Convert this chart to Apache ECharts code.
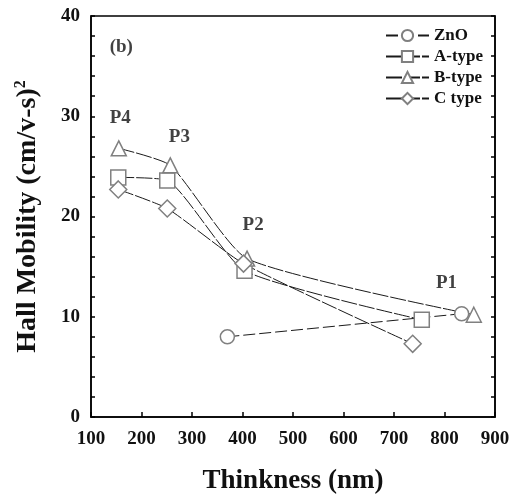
<!DOCTYPE html>
<html><head><meta charset="utf-8">
<script src="https://cdn.jsdelivr.net/npm/echarts@6/dist/echarts.min.js"></script>
<style>html,body{margin:0;padding:0;background:#fff}#c{width:512px;height:494px}</style>
</head><body><div id="c"></div>
<script>
const seriesNames = ['ZnO', 'A-type', 'B-type', 'C type'];
const thickZnO = [370, 834];
const mobZnO = [8.0, 10.3];
const thickA = [154, 251, 404, 755];
const mobA = [23.9, 23.6, 14.6, 9.7];
const thickB = [155, 257, 409, 858];
const mobB = [26.8, 25.1, 15.8, 10.2];
const thickC = [154, 251, 402, 737];
const mobC = [22.7, 20.8, 15.3, 7.3];
const xTicks = [100, 200, 300, 400, 500, 600, 700, 800, 900];
const yTicks = [0, 10, 20, 30, 40];
const peakTexts = ['(b)', 'P4', 'P3', 'P2', 'P1'];
const peakX = [160, 158, 275, 421, 804];
const peakY = [36.9, 29.8, 27.9, 19.1, 13.4];

const F = '"Liberation Serif", "Times New Roman", serif';
const zip = (xs, ys) => xs.map((x, i) => [x, ys[i]]);
const symbols = ['circle', 'rect', 'triangle', 'diamond'];
const sizes = [14, 15, 15, 17];
const dashes = [[12, 4], [16, 2], [16, 2], [16, 2]];
const datas = [zip(thickZnO, mobZnO), zip(thickA, mobA), zip(thickB, mobB), zip(thickC, mobC)];

const chart = echarts.init(document.getElementById('c'));
const series = seriesNames.map((n, i) => ({
  name: n,
  type: 'line',
  data: datas[i],
  smooth: i === 0 ? false : 0.18,
  symbol: symbols[i],
  symbolSize: sizes[i],
  lineStyle: {color: '#1a1a1a', width: 1, type: dashes[i]},
  itemStyle: {color: '#fff', borderColor: '#808080', borderWidth: 1.5},
  z: 3
}));
series.push({
  type: 'scatter',
  data: peakTexts.map((t, i) => ({value: [peakX[i], peakY[i]], label: {formatter: t}})),
  symbolSize: 0,
  silent: true,
  label: {show: true, position: 'inside', fontFamily: F, fontWeight: 'bold', fontSize: 19, color: '#111'},
  z: 5
});

chart.setOption({
  animation: false,
  backgroundColor: '#fff',
  grid: {left: 91, right: 17, top: 16, bottom: 77, show: true, borderColor: '#000', borderWidth: 1.5,
    backgroundColor: 'transparent', containLabel: false, outerBoundsMode: 'none'},
  legend: {
    data: seriesNames,
    orient: 'vertical',
    left: 380,
    top: 22,
    itemWidth: 43,
    itemHeight: 14,
    itemGap: 4,
    textStyle: {fontFamily: F, fontWeight: 'bold', fontSize: 17, color: '#111'}
  },
  xAxis: {
    type: 'value', min: 100, max: 900, interval: 100,
    name: 'Thinkness (nm)', nameLocation: 'middle', nameGap: 51,
    nameTextStyle: {fontFamily: F, fontWeight: 'bold', fontSize: 27, color: '#111'},
    axisLine: {show: true, lineStyle: {color: '#000', width: 1.5}},
    axisTick: {show: true, inside: true, length: 5, lineStyle: {color: '#000', width: 1.5}},
    axisLabel: {fontFamily: F, fontWeight: 'bold', fontSize: 19, color: '#111', margin: 13,
      formatter: v => xTicks.includes(v) ? String(v) : ''},
    splitLine: {show: false}
  },
  yAxis: [{
    type: 'value', min: 0, max: 40, interval: 2,
    name: '{a|Hall Mobility (cm/v-s)}{s|2}', nameLocation: 'middle', nameGap: 48,
    nameTextStyle: {fontFamily: F, fontWeight: 'bold', fontSize: 28, color: '#111',
      rich: {a: {fontFamily: F, fontWeight: 'bold', fontSize: 28, color: '#111'},
             s: {fontFamily: F, fontWeight: 'bold', fontSize: 16, color: '#111', verticalAlign: 'top', padding: [0, 0, 14, 0]}}},
    axisLine: {show: true, lineStyle: {color: '#000', width: 1.5}},
    axisTick: {show: true, inside: true, length: 4, lineStyle: {color: '#000', width: 1.5}},
    axisLabel: {fontFamily: F, fontWeight: 'bold', fontSize: 19, color: '#111', margin: 11,
      formatter: v => yTicks.includes(v) ? String(v) : ''},
    splitLine: {show: false}
  }, {
    type: 'value', min: 0, max: 40, interval: 2, position: 'right',
    axisLine: {show: true, lineStyle: {color: '#000', width: 1.5}},
    axisTick: {show: true, inside: true, length: 4, lineStyle: {color: '#000', width: 1.5}},
    axisLabel: {show: false},
    splitLine: {show: false}
  }],
  series: series
});
</script></body></html>
